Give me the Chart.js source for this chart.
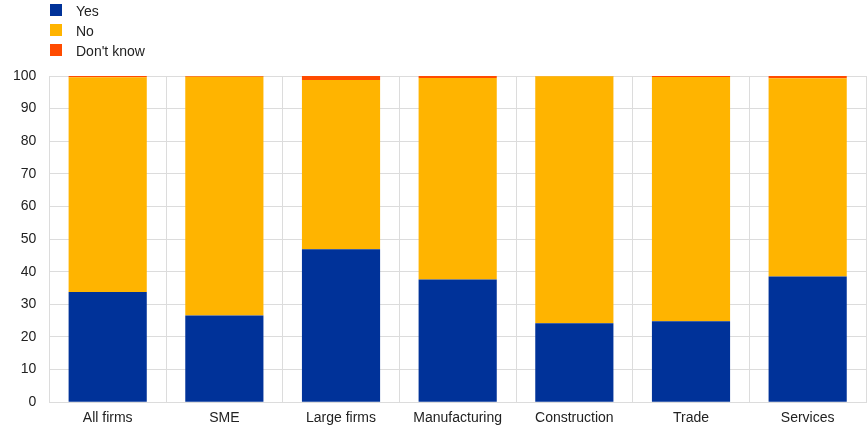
<!DOCTYPE html>
<html>
<head>
<meta charset="utf-8">
<script src="https://cdn.jsdelivr.net/npm/chart.js@4/dist/chart.umd.min.js"></script>
<style>
  html, body { margin:0; padding:0; background:#fff; }
  #wrap { position:relative; width:868px; height:435px; }
  #legend { position:absolute; left:50px; top:4px; font-family:'Liberation Sans', Arial, sans-serif; font-size:14px; color:#222; }
  #legend div { height:20px; line-height:14px; white-space:nowrap; }
  #legend span.box { display:inline-block; width:12px; height:12px; vertical-align:top; margin-right:14px; }
</style>
</head>
<body>
<div id="wrap">
  <canvas id="chart" width="868" height="435"></canvas>
  <div id="legend"></div>
</div>
<script>
// ── DATOS ─────────────────────────────────────────
var CATEGORIAS = ['All firms', 'SME', 'Large firms', 'Manufacturing', 'Construction', 'Trade', 'Services'];
var YES     = [33.8, 26.6, 46.9, 37.6, 24.2, 24.8, 38.5];
var NO      = [65.8, 73.2, 51.9, 61.8, 75.7, 74.9, 60.8];
var DONT    = [0.4, 0.2, 1.2, 0.6, 0.1, 0.3, 0.7];
var Y_TICKS = [0, 10, 20, 30, 40, 50, 60, 70, 80, 90, 100];

var FUENTE = "'Liberation Sans', Arial, sans-serif";
var GRID   = '#dcdcdc';

var series = [
  { label:'Yes',        data:YES,  color:'#003299' },
  { label:'No',         data:NO,   color:'#FFB400' },
  { label:"Don't know", data:DONT, color:'#FF4B00' }
];

// leyenda vertical (texto real)
var leg = document.getElementById('legend');
series.forEach(function (s) {
  var row = document.createElement('div');
  var box = document.createElement('span');
  box.className = 'box';
  box.style.background = s.color;
  row.appendChild(box);
  row.appendChild(document.createTextNode(s.label));
  leg.appendChild(row);
});

new Chart(document.getElementById('chart').getContext('2d'), {
  type: 'bar',
  data: {
    labels: CATEGORIAS,
    datasets: series.map(function (s) {
      return {
        label: s.label,
        data: s.data,
        backgroundColor: s.color,
        borderWidth: 0,
        categoryPercentage: 1,
        barPercentage: 0.67
      };
    })
  },
  options: {
    responsive: false,
    animation: false,
    layout: { padding: { top: 76, left: 0, right: 2, bottom: 0 } },
    plugins: { legend: { display:false }, tooltip: { enabled:false } },
    scales: {
      x: {
        stacked: true,
        grid: { color: GRID, drawTicks: false, offset: true },
        border: { color: GRID },
        ticks: { font: { family: FUENTE, size: 14 }, color: '#222', padding: 8, maxRotation: 0 }
      },
      y: {
        stacked: true,
        min: 0,
        max: 100,
        afterBuildTicks: function (axis) {
          axis.ticks = Y_TICKS.map(function (v) { return { value: v }; });
        },
        grid: { color: GRID, drawTicks: false },
        border: { color: GRID },
        ticks: { font: { family: FUENTE, size: 14 }, color: '#222', padding: 13 }
      }
    }
  }
});
</script>
</body>
</html>
